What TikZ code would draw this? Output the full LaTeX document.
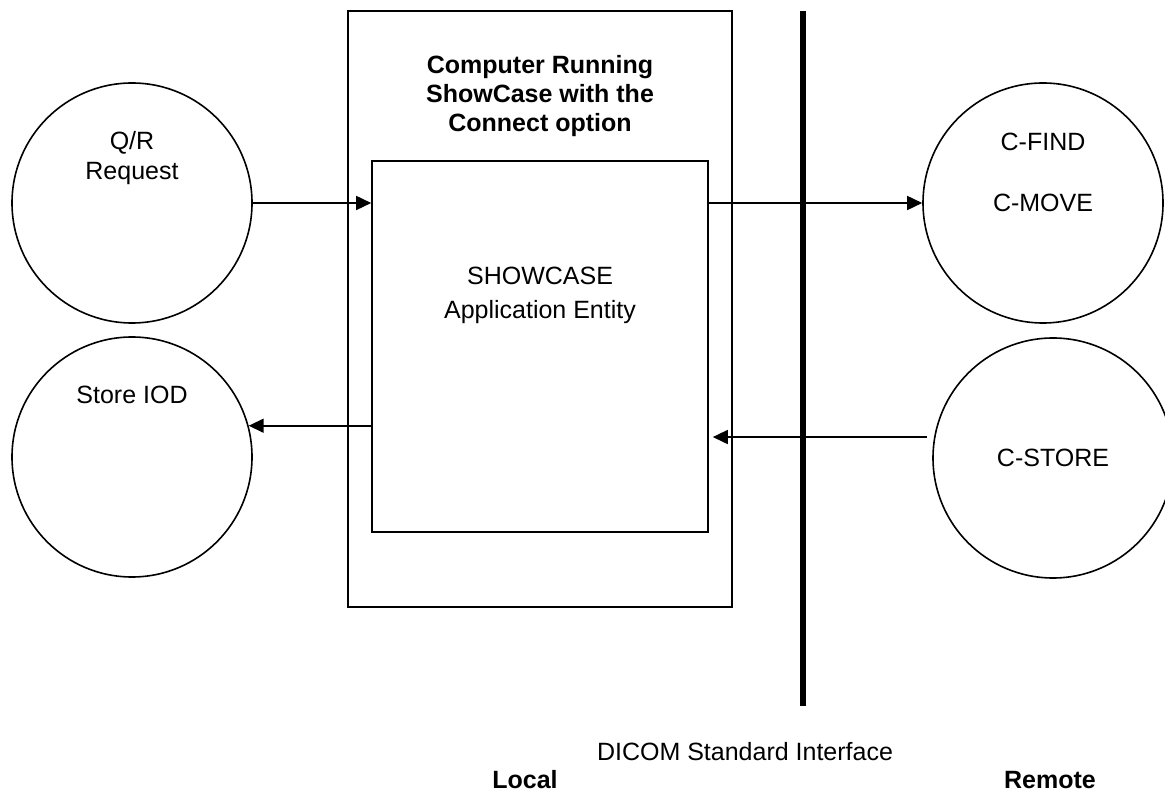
\documentclass[tikz,border=0pt]{standalone}
\usepackage{fontspec}
\setmainfont{Liberation Sans}
\usetikzlibrary{arrows.meta, fit}

\begin{document}
\begin{tikzpicture}[x=0.5pt, y=-0.5pt, line width=0.8pt,
    ent/.style={circle, draw, minimum size=120pt, inner sep=0pt},
    box/.style={draw, inner sep=0pt},
    flow/.style={-{Triangle[length=7.5pt,width=7pt]}},
    txt/.style={font=\fontsize{12.5}{15}\selectfont, align=center},
    hd/.style={font=\fontsize{12.5}{14.5}\selectfont\bfseries, align=center}]
    \useasboundingbox (0,0) rectangle (1165,795);
    % Computer and application entity
    \node[box, fit={(348,11) (732,607)}] (pc) {};
    \node[box, fit={(372,161) (708,532)}] (ae) {};
    \node[hd] (pcTxt) at (540,96) {Computer Running\\ShowCase with the\\Connect option};
    \node[txt, font=\fontsize{12.5}{17}\selectfont] (aeTxt) at (540,295) {SHOWCASE\\Application Entity};
    % Local entities
    \node[ent] (qr) at (132,203) {};
    \node[txt] (qrTxt) at (132,158) {Q/R\\Request};
    \node[ent] (st) at (132,457) {};
    \node[txt] (stTxt) at (132,395) {Store IOD};
    % Remote entities
    \node[ent] (cf) at (1043,203) {};
    \node[txt] (cfTxt) at (1043,142) {C-FIND};
    \node[txt] (cmTxt) at (1043,203) {C-MOVE};
    \node[ent] (cs) at (1053,458) {};
    \node[txt] (csTxt) at (1053,458) {C-STORE};
    % Interface
    \coordinate (ifTop) at (803,11);
    \coordinate (ifBot) at (803,706);
    \draw[line width=3pt] (ifTop) -- (ifBot);
    % Flows
    \draw[flow] (qr.east) -- (qr.east -| ae.west);
    \draw[flow] (ae.east |- cf.west) -- (cf.west);
    \draw[flow] (st.15 -| ae.west) -- (st.15);
    \draw[flow, shorten <=3.5pt, shorten >=2pt] (cs.170) -- (cs.170 -| ae.east);
    % Labels
    \node[txt] (ifTxt) at (745,752) {DICOM Standard Interface};
    \node[hd] (localTxt) at (525,780) {Local};
    \node[hd] (remoteTxt) at (1050,780) {Remote};
\end{tikzpicture}
\end{document}
